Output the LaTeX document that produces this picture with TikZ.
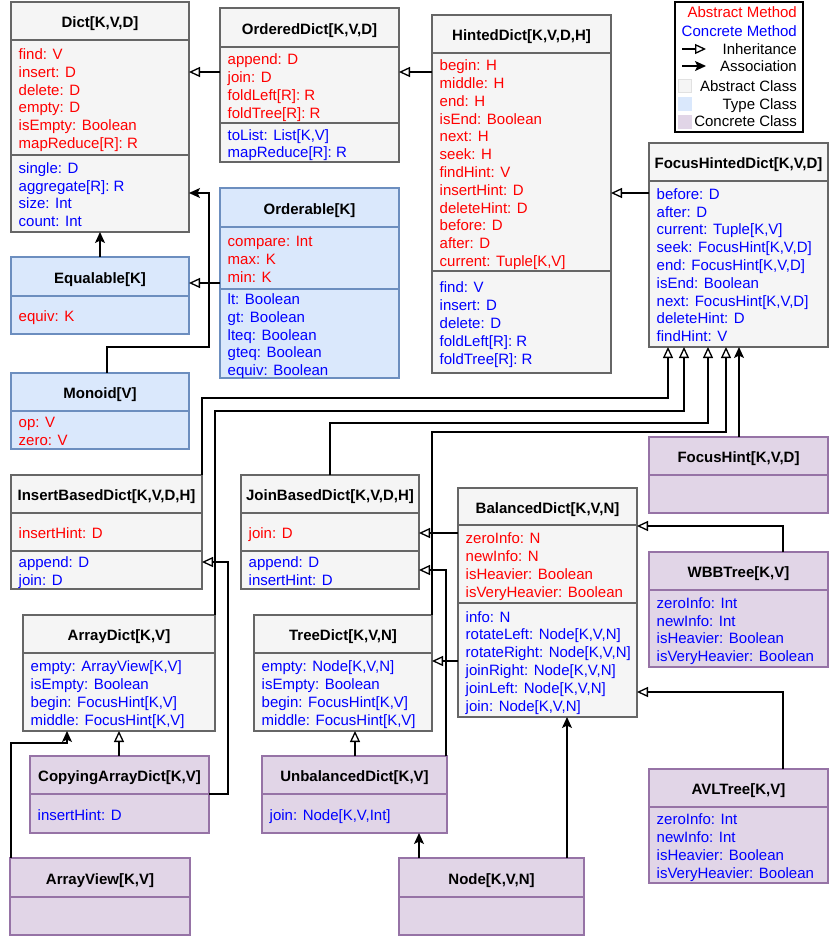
\documentclass[tikz,border=0pt]{standalone}
\usepackage{fontspec}
\setmainfont{Liberation Sans}
\usetikzlibrary{arrows.meta}
\definecolor{absfill}{HTML}{F5F5F5}
\definecolor{absline}{HTML}{666666}
\definecolor{typfill}{HTML}{DAE8FC}
\definecolor{typline}{HTML}{6C8EBF}
\definecolor{confill}{HTML}{E1D5E7}
\definecolor{conline}{HTML}{9673A6}
\definecolor{absred}{HTML}{FF0000}
\definecolor{conblue}{HTML}{0000FF}
\newcounter{umlsecn}
\newcommand{\umlbox}[8]{%
  \node[#2, minimum width={(#5-#3)*1pt}, minimum height={(#6-#4)*1pt}] (#1) at ({(#3+#5)/2},{(#4+#6)/2}) {};
  \draw[#2div] (#1.west |- 0,#7) -- (#1.east |- 0,#7);
  \node[titlefont, anchor=base] (#1-title) at ({(#3+#5)/2},{(#4+#7)/2+6.5}) {#8};
}
\newcommand{\umldiv}[3]{\draw[#3div] (#1.west |- 0,#2) -- (#1.east |- 0,#2);}
\newcommand{\umlsec}[6]{%
  \stepcounter{umlsecn}%
  \node[secfont, text=#5, anchor=base west] (sec\arabic{umlsecn}) at ({#1+7.5},{(#2+#3)/2-(#4-1)*8.9+6.5}) {\begin{tabular}[t]{@{}l@{}}#6\end{tabular}};
}
\tikzset{
  absbox/.style={draw=absline, fill=absfill, line width=1.2pt, inner sep=0, outer sep=0},
  absboxdiv/.style={draw=absline, line width=1.2pt},
  typbox/.style={draw=typline, fill=typfill, line width=1.2pt, inner sep=0, outer sep=0},
  typboxdiv/.style={draw=typline, line width=1.2pt},
  conbox/.style={draw=conline, fill=confill, line width=1.2pt, inner sep=0, outer sep=0},
  conboxdiv/.style={draw=conline, line width=1.2pt},
  titlefont/.style={font=\fontsize{15}{17.8}\selectfont\bfseries, inner sep=0},
  secfont/.style={font=\fontsize{15}{17.8}\selectfont, inner sep=0},
  inh/.style={draw=black, line width=1.3pt, -{Triangle[open, length=11pt, width=10pt]}},
  assoc/.style={draw=black, line width=1.3pt, -{Stealth[length=11pt, width=10pt, inset=2.5pt]}},
}
\begin{document}
\begin{tikzpicture}[x=1pt, y=-1pt]
\useasboundingbox (0,0) rectangle (830,948);

% ---------- classes ----------
\umlbox{dict}{absbox}{11}{2}{189}{232}{40}{Dict[K,V,D]}
\umldiv{dict}{155}{absbox}
\umlsec{11}{40}{155}{6}{absred}{find: V\\insert: D\\delete: D\\empty: D\\isEmpty: Boolean\\mapReduce[R]: R}
\umlsec{11}{155}{232}{4}{conblue}{single: D\\aggregate[R]: R\\size: Int\\count: Int}

\umlbox{odict}{absbox}{220}{8}{399}{162}{47}{OrderedDict[K,V,D]}
\umldiv{odict}{123}{absbox}
\umlsec{220}{47}{123}{4}{absred}{append: D\\join: D\\foldLeft[R]: R\\foldTree[R]: R}
\umlsec{220}{123}{162}{2}{conblue}{toList: List[K,V]\\mapReduce[R]: R}

\umlbox{hdict}{absbox}{432}{15}{611}{373}{53}{HintedDict[K,V,D,H]}
\umldiv{hdict}{271}{absbox}
\umlsec{432}{53}{271}{12}{absred}{begin: H\\middle: H\\end: H\\isEnd: Boolean\\next: H\\seek: H\\findHint: V\\insertHint: D\\deleteHint: D\\before: D\\after: D\\current: Tuple[K,V]}
\umlsec{432}{271}{373}{5}{conblue}{find: V\\insert: D\\delete: D\\foldLeft[R]: R\\foldTree[R]: R}

\umlbox{fhdict}{absbox}{649}{143}{828}{347}{181}{FocusHintedDict[K,V,D]}
\umlsec{649}{181}{347}{9}{conblue}{before: D\\after: D\\current: Tuple[K,V]\\seek: FocusHint[K,V,D]\\end: FocusHint[K,V,D]\\isEnd: Boolean\\next: FocusHint[K,V,D]\\deleteHint: D\\findHint: V}

\umlbox{orderable}{typbox}{220}{188}{399}{378}{227}{Orderable[K]}
\umldiv{orderable}{289}{typbox}
\umlsec{220}{227}{289}{3}{absred}{compare: Int\\max: K\\min: K}
\umlsec{220}{289}{378}{5}{conblue}{lt: Boolean\\gt: Boolean\\lteq: Boolean\\gteq: Boolean\\equiv: Boolean}

\umlbox{equalable}{typbox}{11}{257}{189}{334}{296}{Equalable[K]}
\umlsec{11}{296}{334}{1}{absred}{equiv: K}

\umlbox{monoid}{typbox}{11}{373}{189}{449}{411}{Monoid[V]}
\umlsec{11}{411}{449}{2}{absred}{op: V\\zero: V}

\umlbox{ibdict}{absbox}{11}{475}{202}{589}{513}{InsertBasedDict[K,V,D,H]}
\umldiv{ibdict}{551}{absbox}
\umlsec{11}{513}{551}{1}{absred}{insertHint: D}
\umlsec{11}{551}{589}{2}{conblue}{append: D\\join: D}

\umlbox{jbdict}{absbox}{241}{475}{419}{589}{513}{JoinBasedDict[K,V,D,H]}
\umldiv{jbdict}{551}{absbox}
\umlsec{241}{513}{551}{1}{absred}{join: D}
\umlsec{241}{551}{589}{2}{conblue}{append: D\\insertHint: D}

\umlbox{bdict}{absbox}{458}{488}{637}{717}{525}{BalancedDict[K,V,N]}
\umldiv{bdict}{603}{absbox}
\umlsec{458}{525}{603}{4}{absred}{zeroInfo: N\\newInfo: N\\isHeavier: Boolean\\isVeryHeavier: Boolean}
\umlsec{458}{603}{717}{6}{conblue}{info: N\\rotateLeft: Node[K,V,N]\\rotateRight: Node[K,V,N]\\joinRight: Node[K,V,N]\\joinLeft: Node[K,V,N]\\join: Node[K,V,N]}

\umlbox{adict}{absbox}{23}{615}{215}{731}{653}{ArrayDict[K,V]}
\umlsec{23}{653}{731}{4}{conblue}{empty: ArrayView[K,V]\\isEmpty: Boolean\\begin: FocusHint[K,V]\\middle: FocusHint[K,V]}

\umlbox{tdict}{absbox}{254}{615}{432}{731}{653}{TreeDict[K,V,N]}
\umlsec{254}{653}{731}{4}{conblue}{empty: Node[K,V,N]\\isEmpty: Boolean\\begin: FocusHint[K,V]\\middle: FocusHint[K,V]}

\umlbox{cadict}{conbox}{30}{756}{209}{833}{794}{CopyingArrayDict[K,V]}
\umlsec{30}{794}{833}{1}{conblue}{insertHint: D}

\umlbox{ubdict}{conbox}{262}{756}{447}{833}{794}{UnbalancedDict[K,V]}
\umlsec{262}{794}{833}{1}{conblue}{join: Node[K,V,Int]}

\umlbox{aview}{conbox}{10}{858}{190}{935}{897}{ArrayView[K,V]}
\umlbox{nodekv}{conbox}{399}{858}{584}{935}{897}{Node[K,V,N]}
\umlbox{fhint}{conbox}{649}{437}{828}{513}{475}{FocusHint[K,V,D]}

\umlbox{wbb}{conbox}{649}{552}{828}{667}{590}{WBBTree[K,V]}
\umlsec{649}{590}{667}{4}{conblue}{zeroInfo: Int\\newInfo: Int\\isHeavier: Boolean\\isVeryHeavier: Boolean}

\umlbox{avl}{conbox}{649}{769}{828}{883}{807}{AVLTree[K,V]}
\umlsec{649}{807}{883}{4}{conblue}{zeroInfo: Int\\newInfo: Int\\isHeavier: Boolean\\isVeryHeavier: Boolean}

% ---------- legend ----------
\node[draw=black, line width=1.3pt, minimum width=128pt, minimum height=130pt, inner sep=0, outer sep=0] (legend) at (739,67) {};
\node[secfont, text=absred, anchor=base east] (lgt1) at (797,17.3) {Abstract Method};
\node[secfont, text=conblue, anchor=base east] (lgt2) at (797,36) {Concrete Method};
\node[secfont, anchor=base east] (lgt3) at (797,54) {Inheritance};
\node[secfont, anchor=base east] (lgt4) at (797,71.7) {Association};
\node[secfont, anchor=base east] (lgt5) at (797,91) {Abstract Class};
\node[secfont, anchor=base east] (lgt6) at (797,109.3) {Type Class};
\node[secfont, anchor=base east] (lgt7) at (797,126.7) {Concrete Class};
\coordinate (lgi1) at (682,49);
\coordinate (lgi2) at (706,49);
\coordinate (lga1) at (682,66);
\coordinate (lga2) at (706,66);
\draw[inh] (lgi1) -- (lgi2);
\draw[assoc] (lga1) -- (lga2);
\node[fill=absfill, draw=absfill!92!black, line width=0.6pt, minimum size=13pt, inner sep=0] (lgs1) at (684.5,85.5) {};
\node[fill=typfill, draw=typfill, line width=0.6pt, minimum size=13pt, inner sep=0] (lgs2) at (684.5,104) {};
\node[fill=confill, draw=confill, line width=0.6pt, minimum size=13pt, inner sep=0] (lgs3) at (684.5,121.5) {};

% ---------- connectors ----------
\draw[inh] (odict.west |- 0,72) -- (dict.east |- 0,72);
\draw[inh] (hdict.west |- 0,72) -- (odict.east |- 0,72);
\draw[inh] (fhdict.west |- 0,193) -- (hdict.east |- 0,193);
\draw[inh] (orderable.west |- 0,283) -- (equalable.east |- 0,283);
\draw[assoc] (equalable.north) -- (dict.south);
\draw[assoc] (monoid.north -| 107,0) -- (107,347) -- (209,347) -- (209,193) -- (dict.east |- 0,193);

\draw[inh] (ibdict.north east) -- (ibdict.north east |- 0,398) -- (668,398) -- (fhdict.south -| 668,0);
\draw[inh] (adict.north east) -- (adict.north east |- 0,411) -- (684,411) -- (fhdict.south -| 684,0);
\draw[inh] (jbdict.north) -- (jbdict.north |- 0,423) -- (708,423) -- (fhdict.south -| 708,0);
\draw[inh] (tdict.north east) -- (tdict.north east |- 0,432) -- (726,432) -- (fhdict.south -| 726,0);
\draw[assoc] (fhint.north -| 739,0) -- (fhdict.south -| 739,0);

\draw[inh] (bdict.west |- 0,533) -- (jbdict.east |- 0,533);
\draw[inh] (ubdict.north -| 446,0) -- (446,570) -- (jbdict.east |- 0,570);
\draw[inh] (bdict.west |- 0,661) -- (tdict.east |- 0,661);
\draw[inh] (ubdict.north -| 355,0) -- (tdict.south -| 355,0);
\draw[inh] (cadict.north -| 119,0) -- (adict.south -| 119,0);
\draw[inh] (cadict.east |- 0,794) -- (228,794) -- (228,562) -- (ibdict.east |- 0,562);
\draw[assoc] (aview.north -| 11,0) -- (11,743) -- (67,743) -- (adict.south -| 67,0);
\draw[assoc] (nodekv.north -| 419,0) -- (ubdict.south -| 419,0);
\draw[assoc] (nodekv.north -| 567,0) -- (bdict.south -| 567,0);
\draw[inh] (wbb.north -| 783,0) -- (783,526) -- (bdict.east |- 0,526);
\draw[inh] (avl.north -| 783,0) -- (783,692) -- (bdict.east |- 0,692);
\end{tikzpicture}
\end{document}
